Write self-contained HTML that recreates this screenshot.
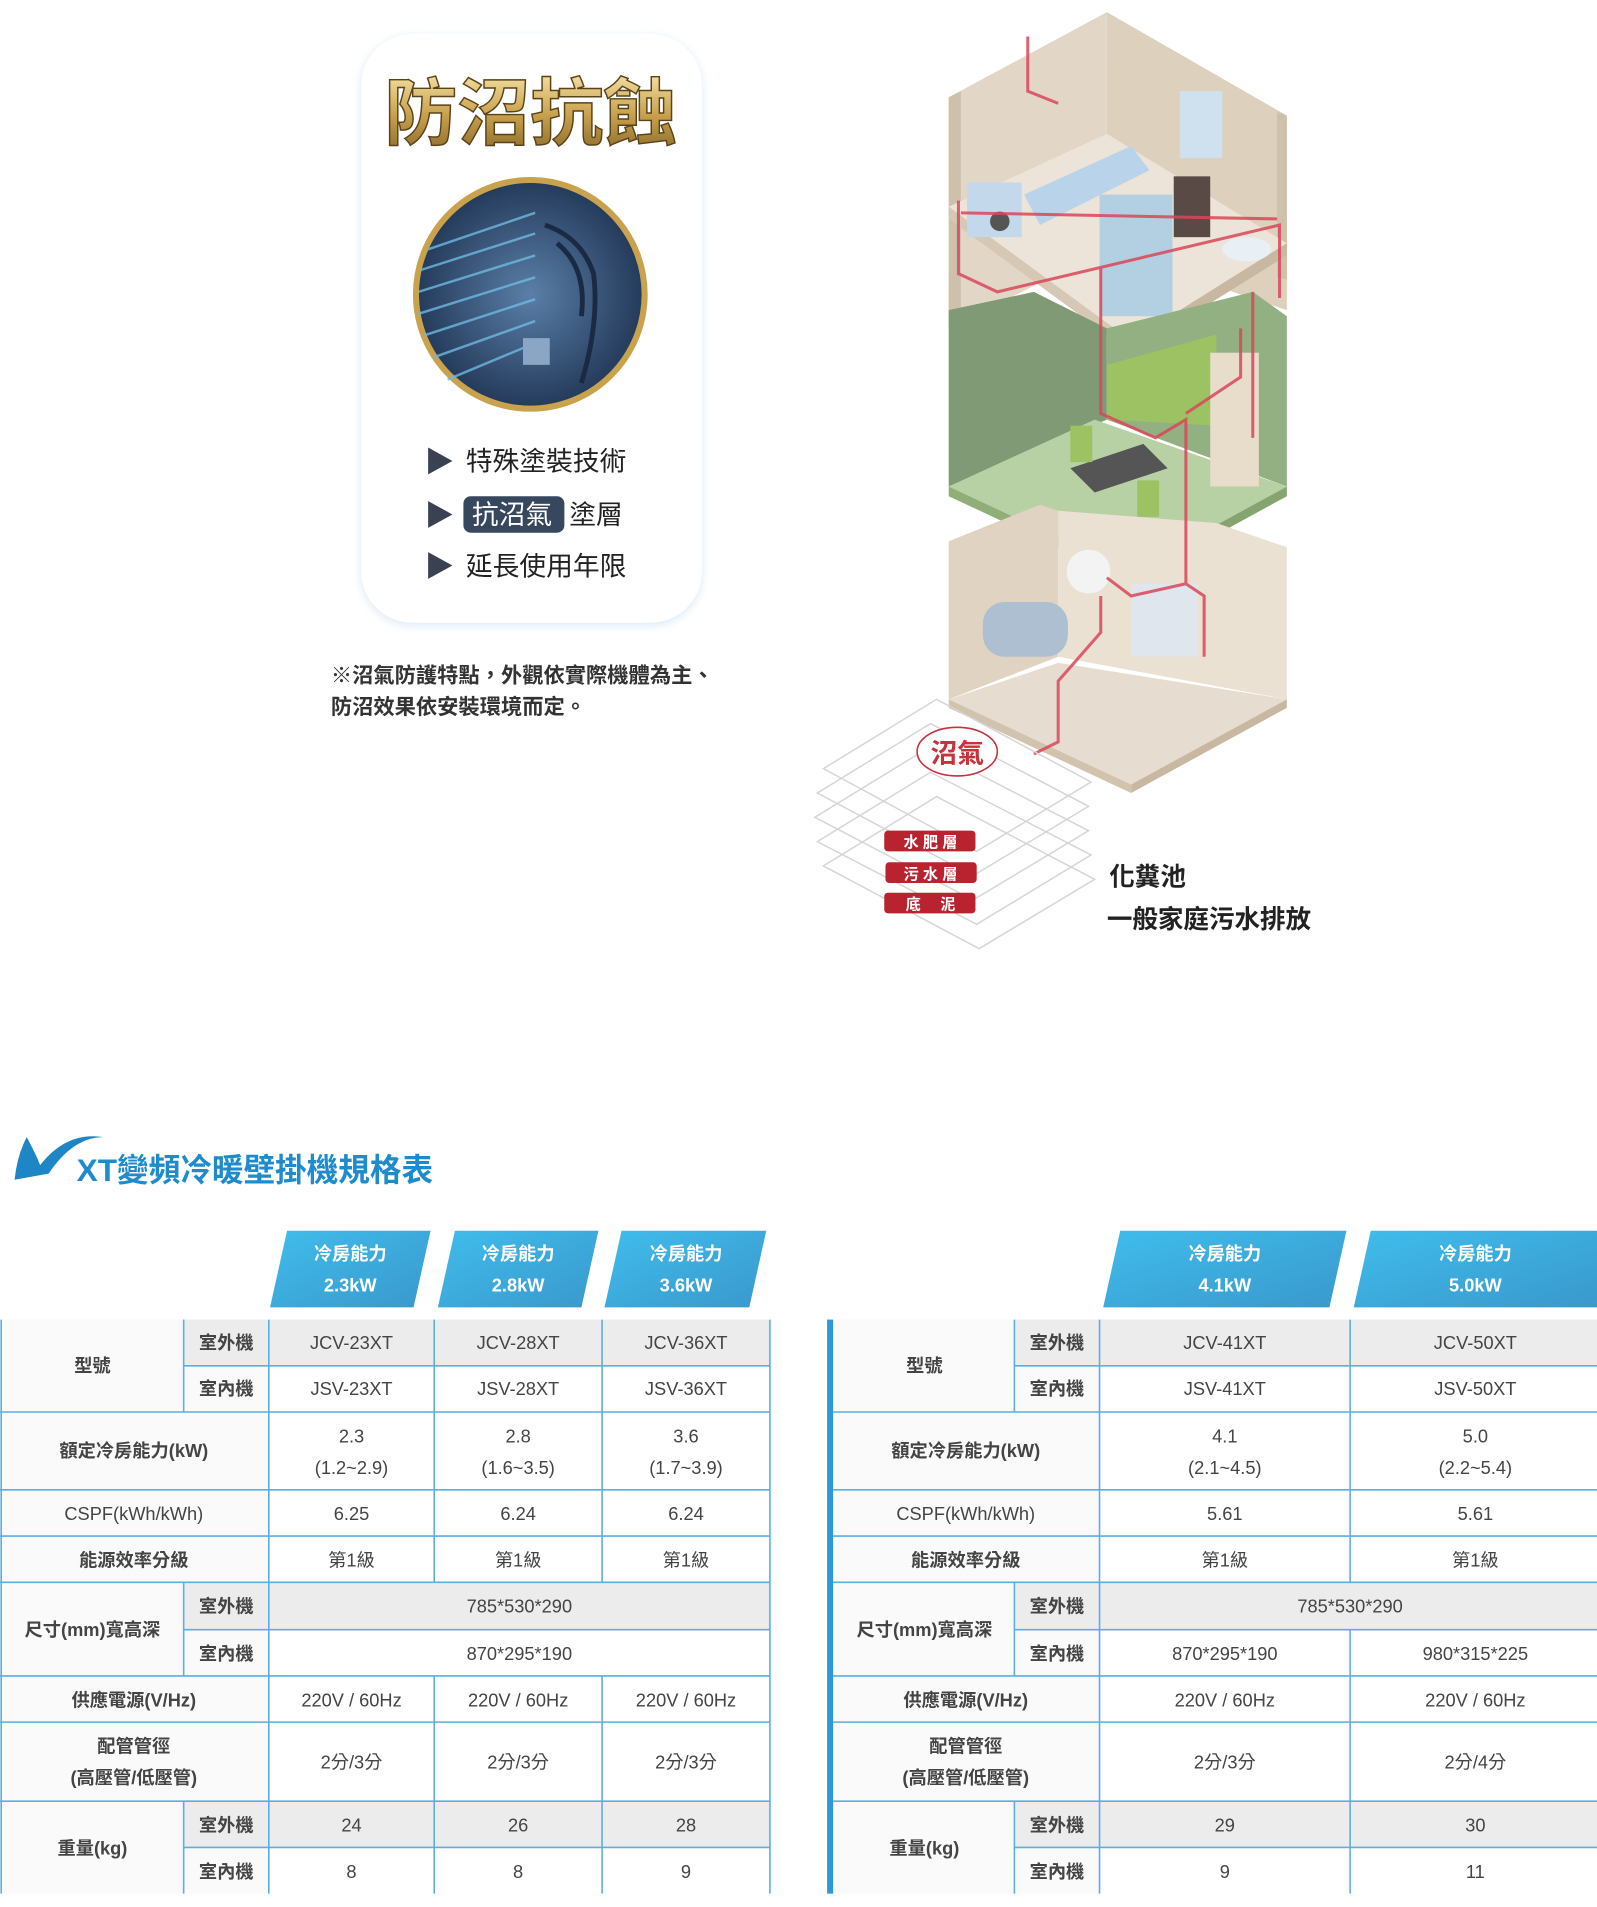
<!DOCTYPE html>
<html><head><meta charset="utf-8"><style>
html,body{margin:0;padding:0;background:#fff;}
svg{display:block;}
text{font-family:"Liberation Sans","Noto Sans CJK TC",sans-serif;}
</style></head><body>
<svg width="1597" height="1907" viewBox="0 0 1313 1568" preserveAspectRatio="none" xmlns="http://www.w3.org/2000/svg">
<defs>
<linearGradient id="gold" x1="0" y1="0" x2="0" y2="1"><stop offset="0" stop-color="#f3dfa2"/><stop offset="0.5" stop-color="#c9a24e"/><stop offset="1" stop-color="#8a6a2a"/></linearGradient>
<linearGradient id="hdr" x1="0" y1="0" x2="1" y2="1"><stop offset="0" stop-color="#3fbdec"/><stop offset="1" stop-color="#3a98cc"/></linearGradient>
<radialGradient id="coil" cx="0.5" cy="0.5" r="0.5"><stop offset="0" stop-color="#5a7fa8"/><stop offset="1" stop-color="#243a5a"/></radialGradient>
<filter id="sh" x="-10%" y="-10%" width="120%" height="120%"><feGaussianBlur stdDeviation="4"/></filter>
</defs>

<!-- Card -->
<rect x="297" y="30" width="280" height="484" rx="42" fill="#d9e9f7" filter="url(#sh)"/>
<rect x="297" y="28" width="280" height="484" rx="42" fill="#fff"/>
<text x="436" y="114" text-anchor="middle" font-size="60" font-weight="bold" fill="url(#gold)" stroke="#5a4318" stroke-width="1.2">防沼抗蝕</text>
<circle cx="436" cy="242" r="94" fill="url(#coil)" stroke="#c9a24e" stroke-width="5"/>
<g stroke="#6fb9e0" stroke-width="2" opacity="0.8">
<line x1="352" y1="205" x2="440" y2="175"/><line x1="346" y1="222" x2="440" y2="192"/><line x1="344" y1="240" x2="440" y2="210"/><line x1="344" y1="258" x2="440" y2="228"/><line x1="348" y1="276" x2="440" y2="246"/><line x1="356" y1="294" x2="440" y2="264"/><line x1="368" y1="312" x2="440" y2="282"/>
</g>
<g stroke="#1a2a44" stroke-width="4" fill="none"><path d="M448 185 q30 10 40 40 q5 40 -10 90"/><path d="M458 200 q25 20 20 60"/></g>
<rect x="430" y="278" width="22" height="22" fill="#8aa6c4"/>
<g font-size="22" fill="#222">
<polygon points="352,368 352,390 372,379" fill="#3a4252"/><text x="383" y="387">特殊塗裝技術</text>
<polygon points="352,412 352,434 372,423" fill="#3a4252"/>
<rect x="381" y="408" width="83" height="30" rx="6" fill="#37475e"/><text x="388" y="431" fill="#fff">抗沼氣</text><text x="468" y="431">塗層</text>
<polygon points="352,454 352,476 372,465" fill="#3a4252"/><text x="383" y="473">延長使用年限</text>
</g>
<g font-size="17.5" font-weight="bold" fill="#333">
<text x="272" y="561">※沼氣防護特點，外觀依實際機體為主、</text>
<text x="272" y="587">防沼效果依安裝環境而定。</text>
</g>

<!-- House -->
<!-- top floor -->
<polygon points="780,80 910,10 910,205 780,270" fill="#e2d6c6"/>
<polygon points="910,10 1058,95 1058,255 910,205" fill="#ddd0bd"/>
<polygon points="780,80 790,75 790,265 780,270" fill="#cfc0ac"/>
<polygon points="1050,92 1058,95 1058,230 1050,228" fill="#cfc0ac"/>
<polygon points="780,170 910,110 1058,200 930,280" fill="#ece4d8"/>
<polygon points="780,170 930,280 930,290 780,180" fill="#d6c8b4"/>
<polygon points="930,280 1058,200 1058,210 930,290" fill="#c8b8a2"/>
<!-- fixtures top -->
<rect x="795" y="150" width="45" height="45" fill="#c3d8ea"/><circle cx="822" cy="182" r="8" fill="#555"/>
<polygon points="842,160 930,120 945,140 855,185" fill="#b9d3ea"/>
<rect x="904" y="160" width="60" height="100" fill="#a9cde4" opacity="0.85"/>
<rect x="965" y="145" width="30" height="50" fill="#5a4a46"/>
<rect x="970" y="75" width="35" height="55" fill="#cfe1ee"/>
<ellipse cx="1025" cy="205" rx="20" ry="10" fill="#e8f0f6"/>
<!-- middle floor green -->
<polygon points="780,255 850,240 910,270 910,345 780,400" fill="#7f9a74"/>
<polygon points="910,270 1030,240 1058,260 1058,400 910,345" fill="#92b082"/>
<polygon points="780,400 900,345 1058,400 930,470" fill="#b7d1a4"/>
<polygon points="780,400 930,470 930,478 780,408" fill="#8fae78"/>
<polygon points="930,470 1058,400 1058,408 930,478" fill="#86a470"/>
<polygon points="910,300 1000,275 1000,350 910,345" fill="#9cc264"/>
<rect x="995" y="290" width="40" height="110" fill="#e8dccb"/>
<polygon points="880,385 940,365 960,385 900,405" fill="#555"/>
<rect x="880" y="350" width="18" height="30" fill="#9cc264"/><rect x="935" y="395" width="18" height="30" fill="#9cc264"/>
<!-- bottom floor -->
<polygon points="780,445 855,415 870,420 870,540 780,575" fill="#e0d3c1"/>
<polygon points="870,420 1000,430 1058,450 1058,575 870,540" fill="#eae1d3"/>
<polygon points="780,575 870,545 1058,575 930,645" fill="#e6ddd0"/>
<polygon points="780,575 930,645 930,652 780,582" fill="#d2c3ae"/>
<polygon points="930,645 1058,575 1058,582 930,652" fill="#c8b8a2"/>
<rect x="808" y="495" width="70" height="45" rx="18" fill="#aebfd2"/>
<rect x="930" y="480" width="55" height="60" fill="#dfe6ee"/>
<circle cx="895" cy="470" r="18" fill="#f3f3f3"/>
<!-- pipes -->
<g fill="none" stroke="#d9475a" stroke-width="2.5" opacity="0.85">
<path d="M845 30 V75 L870 85"/>
<path d="M788 165 V225 L820 240 L1052 185 V245"/>
<path d="M790 175 L1050 180"/>
<path d="M905 220 V340 L950 360 L975 345 V430"/>
<path d="M1030 240 V360"/>
<path d="M1020 270 V310 L975 340"/>
<path d="M975 430 V480 L930 490 L910 475"/>
<path d="M975 480 L990 490 V540"/>
<path d="M905 490 V520 L870 560 V610 L850 620"/>
</g>
<!-- ground layers -->
<g fill="none" stroke="#d5d5d5" stroke-width="1.2">
<polygon points="677,632 770,575 897,643 803,700"/>
<polygon points="672,652 765,595 895,663 800,720"/>
<polygon points="670,672 763,615 895,683 800,740"/>
<polygon points="672,692 765,635 897,703 803,760"/>
<polygon points="677,712 770,655 900,723 805,780"/>
</g>
<ellipse cx="787" cy="618" rx="33" ry="20" fill="#fff" stroke="#c8323c" stroke-width="1.3"/>
<text x="787" y="627" text-anchor="middle" font-size="22" font-weight="bold" fill="#c8323c">沼氣</text>
<g font-size="12.5" fill="#fff" font-weight="bold" text-anchor="middle">
<rect x="727" y="683" width="75" height="17" rx="3" fill="#b8232f"/><text x="765" y="697">水 肥 層</text>
<rect x="728" y="709" width="75" height="17" rx="3" fill="#b8232f"/><text x="765" y="723">污 水 層</text>
<rect x="727" y="734" width="75" height="17" rx="3" fill="#b8232f"/><text x="765" y="748">底　 泥</text>
</g>
<g font-size="21" font-weight="bold" fill="#222">
<text x="912" y="728">化糞池</text>
<text x="910" y="763">一般家庭污水排放</text>
</g>

<!-- Title -->
<path d="M12 970 Q14 950 22 935 Q30 950 33 958 Q55 930 85 935 Q60 935 40 965 Z" fill="#1e86c4"/>
<text x="63" y="971" font-size="26" font-weight="bold" fill="#1e8ccc">XT變頻冷暖壁掛機規格表</text>

<!-- headers -->
<g fill="url(#hdr)">
<polygon points="236,1012 354,1012 340,1075 222,1075"/>
<polygon points="374,1012 492,1012 478,1075 360,1075"/>
<polygon points="511,1012 630,1012 616,1075 497,1075"/>
<polygon points="921,1012 1107,1012 1093,1075 907,1075"/>
<polygon points="1127,1012 1313,1012 1313,1075 1113,1075"/>
</g>
<g font-size="15" font-weight="bold" fill="#fff" text-anchor="middle">
<text x="288" y="1036">冷房能力</text><text x="288" y="1062">2.3kW</text>
<text x="426" y="1036">冷房能力</text><text x="426" y="1062">2.8kW</text>
<text x="564" y="1036">冷房能力</text><text x="564" y="1062">3.6kW</text>
<text x="1007" y="1036">冷房能力</text><text x="1007" y="1062">4.1kW</text>
<text x="1213" y="1036">冷房能力</text><text x="1213" y="1062">5.0kW</text>
</g>

<!-- LEFT TABLE -->
<rect x="0" y="1085" width="633" height="472" fill="#fafafa"/>
<rect x="221" y="1161" width="412" height="396" fill="#fff"/>
<rect x="221" y="1123" width="412" height="38" fill="#fff"/>
<g fill="#ececec">
<rect x="151" y="1085" width="482" height="38"/>
<rect x="151" y="1301" width="482" height="39"/>
<rect x="151" y="1481" width="482" height="38"/>
</g>
<g stroke="#5aaee0" stroke-width="1.3" fill="none">
<line x1="0" y1="1161" x2="633" y2="1161"/><line x1="151" y1="1123" x2="633" y2="1123"/>
<line x1="0" y1="1225" x2="633" y2="1225"/><line x1="0" y1="1263" x2="633" y2="1263"/>
<line x1="0" y1="1301" x2="633" y2="1301"/><line x1="151" y1="1340" x2="633" y2="1340"/>
<line x1="0" y1="1378" x2="633" y2="1378"/><line x1="0" y1="1416" x2="633" y2="1416"/>
<line x1="0" y1="1481" x2="633" y2="1481"/><line x1="151" y1="1519" x2="633" y2="1519"/>
<line x1="1" y1="1085" x2="1" y2="1557"/><line x1="633" y1="1085" x2="633" y2="1557"/>
<line x1="221" y1="1085" x2="221" y2="1557"/>
<line x1="151" y1="1085" x2="151" y2="1161"/><line x1="151" y1="1301" x2="151" y2="1378"/><line x1="151" y1="1481" x2="151" y2="1557"/>
<line x1="357" y1="1085" x2="357" y2="1301"/><line x1="495" y1="1085" x2="495" y2="1301"/>
<line x1="357" y1="1378" x2="357" y2="1557"/><line x1="495" y1="1378" x2="495" y2="1557"/>
</g>
<g font-size="15" fill="#444" text-anchor="middle">
<text x="76" y="1128" font-weight="bold">型號</text>
<text x="186" y="1109" font-weight="bold">室外機</text><text x="186" y="1147" font-weight="bold">室內機</text>
<text x="289" y="1109">JCV-23XT</text><text x="426" y="1109">JCV-28XT</text><text x="564" y="1109">JCV-36XT</text>
<text x="289" y="1147">JSV-23XT</text><text x="426" y="1147">JSV-28XT</text><text x="564" y="1147">JSV-36XT</text>
<text x="110" y="1198" font-weight="bold">額定冷房能力(kW)</text>
<text x="289" y="1186">2.3</text><text x="289" y="1212">(1.2~2.9)</text>
<text x="426" y="1186">2.8</text><text x="426" y="1212">(1.6~3.5)</text>
<text x="564" y="1186">3.6</text><text x="564" y="1212">(1.7~3.9)</text>
<text x="110" y="1250">CSPF(kWh/kWh)</text>
<text x="289" y="1250">6.25</text><text x="426" y="1250">6.24</text><text x="564" y="1250">6.24</text>
<text x="110" y="1288" font-weight="bold">能源效率分級</text>
<text x="289" y="1288">第1級</text><text x="426" y="1288">第1級</text><text x="564" y="1288">第1級</text>
<text x="76" y="1345" font-weight="bold">尺寸(mm)寬高深</text>
<text x="186" y="1326" font-weight="bold">室外機</text><text x="186" y="1365" font-weight="bold">室內機</text>
<text x="427" y="1326">785*530*290</text><text x="427" y="1365">870*295*190</text>
<text x="110" y="1403" font-weight="bold">供應電源(V/Hz)</text>
<text x="289" y="1403">220V / 60Hz</text><text x="426" y="1403">220V / 60Hz</text><text x="564" y="1403">220V / 60Hz</text>
<text x="110" y="1441" font-weight="bold">配管管徑</text><text x="110" y="1467" font-weight="bold">(高壓管/低壓管)</text>
<text x="289" y="1454">2分/3分</text><text x="426" y="1454">2分/3分</text><text x="564" y="1454">2分/3分</text>
<text x="76" y="1525" font-weight="bold">重量(kg)</text>
<text x="186" y="1506" font-weight="bold">室外機</text><text x="186" y="1544" font-weight="bold">室內機</text>
<text x="289" y="1506">24</text><text x="426" y="1506">26</text><text x="564" y="1506">28</text>
<text x="289" y="1544">8</text><text x="426" y="1544">8</text><text x="564" y="1544">9</text>
</g>

<!-- RIGHT TABLE -->
<rect x="685" y="1085" width="628" height="472" fill="#fafafa"/>
<rect x="904" y="1123" width="409" height="434" fill="#fff"/>
<g fill="#ececec">
<rect x="834" y="1085" width="479" height="38"/>
<rect x="834" y="1301" width="479" height="39"/>
<rect x="834" y="1481" width="479" height="38"/>
</g>
<rect x="680" y="1085" width="5" height="472" fill="#2e9ad4"/>
<g stroke="#5aaee0" stroke-width="1.3" fill="none">
<line x1="685" y1="1161" x2="1313" y2="1161"/><line x1="834" y1="1123" x2="1313" y2="1123"/>
<line x1="685" y1="1225" x2="1313" y2="1225"/><line x1="685" y1="1263" x2="1313" y2="1263"/>
<line x1="685" y1="1301" x2="1313" y2="1301"/><line x1="834" y1="1340" x2="1313" y2="1340"/>
<line x1="685" y1="1378" x2="1313" y2="1378"/><line x1="685" y1="1416" x2="1313" y2="1416"/>
<line x1="685" y1="1481" x2="1313" y2="1481"/><line x1="834" y1="1519" x2="1313" y2="1519"/>
<line x1="904" y1="1085" x2="904" y2="1557"/>
<line x1="834" y1="1085" x2="834" y2="1161"/><line x1="834" y1="1301" x2="834" y2="1378"/><line x1="834" y1="1481" x2="834" y2="1557"/>
<line x1="1110" y1="1085" x2="1110" y2="1301"/><line x1="1110" y1="1340" x2="1110" y2="1557"/>
</g>
<g font-size="15" fill="#444" text-anchor="middle">
<text x="760" y="1128" font-weight="bold">型號</text>
<text x="869" y="1109" font-weight="bold">室外機</text><text x="869" y="1147" font-weight="bold">室內機</text>
<text x="1007" y="1109">JCV-41XT</text><text x="1213" y="1109">JCV-50XT</text>
<text x="1007" y="1147">JSV-41XT</text><text x="1213" y="1147">JSV-50XT</text>
<text x="794" y="1198" font-weight="bold">額定冷房能力(kW)</text>
<text x="1007" y="1186">4.1</text><text x="1007" y="1212">(2.1~4.5)</text>
<text x="1213" y="1186">5.0</text><text x="1213" y="1212">(2.2~5.4)</text>
<text x="794" y="1250">CSPF(kWh/kWh)</text>
<text x="1007" y="1250">5.61</text><text x="1213" y="1250">5.61</text>
<text x="794" y="1288" font-weight="bold">能源效率分級</text>
<text x="1007" y="1288">第1級</text><text x="1213" y="1288">第1級</text>
<text x="760" y="1345" font-weight="bold">尺寸(mm)寬高深</text>
<text x="869" y="1326" font-weight="bold">室外機</text><text x="869" y="1365" font-weight="bold">室內機</text>
<text x="1110" y="1326">785*530*290</text>
<text x="1007" y="1365">870*295*190</text><text x="1213" y="1365">980*315*225</text>
<text x="794" y="1403" font-weight="bold">供應電源(V/Hz)</text>
<text x="1007" y="1403">220V / 60Hz</text><text x="1213" y="1403">220V / 60Hz</text>
<text x="794" y="1441" font-weight="bold">配管管徑</text><text x="794" y="1467" font-weight="bold">(高壓管/低壓管)</text>
<text x="1007" y="1454">2分/3分</text><text x="1213" y="1454">2分/4分</text>
<text x="760" y="1525" font-weight="bold">重量(kg)</text>
<text x="869" y="1506" font-weight="bold">室外機</text><text x="869" y="1544" font-weight="bold">室內機</text>
<text x="1007" y="1506">29</text><text x="1213" y="1506">30</text>
<text x="1007" y="1544">9</text><text x="1213" y="1544">11</text>
</g>
</svg>
</body></html>
